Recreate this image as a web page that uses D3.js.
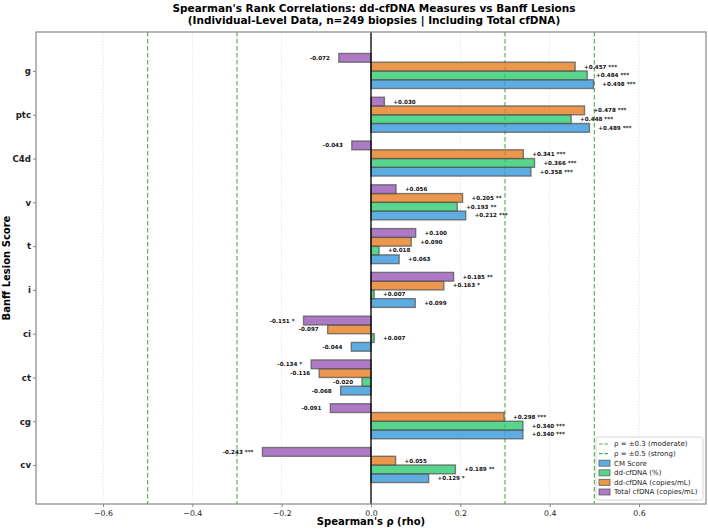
<!DOCTYPE html>
<html>
<head>
<meta charset="utf-8">
<script src="https://cdn.jsdelivr.net/npm/d3@7"></script>
<style>
  html, body { margin: 0; padding: 0; background: #fff; }
  svg { display: block; font-family: "DejaVu Sans", sans-serif; }
</style>
</head>
<body>
<svg id="chart" width="708" height="529"></svg>
<script>
// ---- Data ----
const lesions = ["g", "ptc", "C4d", "v", "t", "i", "ci", "ct", "cg", "cv"];
const seriesNames = ["CM Score", "dd-cfDNA (%)", "dd-cfDNA (copies/mL)", "Total cfDNA (copies/mL)"];
const cmScore     = [0.498, 0.489, 0.358, 0.212, 0.063, 0.099, -0.044, -0.068, 0.340, 0.129];
const cmSig       = ["***", "***", "***", "***", "", "", "", "", "***", "*"];
const ddPct       = [0.484, 0.448, 0.366, 0.193, 0.018, 0.007, 0.007, -0.020, 0.340, 0.189];
const ddPctSig    = ["***", "***", "***", "**", "", "", "", "", "***", "**"];
const ddCopies    = [0.457, 0.478, 0.341, 0.205, 0.090, 0.163, -0.097, -0.116, 0.298, 0.055];
const ddCopiesSig = ["***", "***", "***", "**", "", "*", "", "", "***", ""];
const totalCf     = [-0.072, 0.030, -0.043, 0.056, 0.100, 0.185, -0.151, -0.134, -0.091, -0.243];
const totalCfSig  = ["", "", "", "", "", "**", "*", "*", "", "***"];
const xTicks = [-0.6, -0.4, -0.2, 0.0, 0.2, 0.4, 0.6];
const thresholds = [0.3, 0.5];

const seriesValues = [cmScore, ddPct, ddCopies, totalCf];
const seriesSigs = [cmSig, ddPctSig, ddCopiesSig, totalCfSig];
const colors = ["#3498db", "#2ecc71", "#e67e22", "#9b59b6"];
const offsets = [0.3, 0.1, -0.1, -0.3];
const barH = 0.2;

// ---- Layout ----
const svg = d3.select("#chart");
const L = 36, R = 706, T = 32, B = 504;

const x = d3.scaleLinear().domain([-0.75, 0.75]).range([L, R]);
const y = d3.scaleLinear().domain([-0.89, lesions.length - 1 + 0.89]).range([T, B]);

// grid
svg.append("g").selectAll("line").data(xTicks).join("line")
  .attr("x1", d => x(d)).attr("x2", d => x(d))
  .attr("y1", T).attr("y2", B)
  .attr("stroke", "#cccccc").attr("stroke-width", 0.6)
  .attr("stroke-dasharray", "1.5,1.5").attr("opacity", 0.8);

// threshold lines
const thrVals = [];
thresholds.forEach(t => { thrVals.push(t); thrVals.push(-t); });
svg.append("g").selectAll("line").data(thrVals).join("line")
  .attr("x1", d => x(d)).attr("x2", d => x(d))
  .attr("y1", T).attr("y2", B)
  .attr("stroke", "#2ca02c").attr("stroke-width", 1.1)
  .attr("stroke-dasharray", "4.5,2.5").attr("opacity", 0.85);

// bars
const barsData = [];
lesions.forEach((les, i) => {
  seriesValues.forEach((vals, s) => {
    barsData.push({ i, s, v: vals[i], sig: seriesSigs[s][i] });
  });
});

svg.append("g").selectAll("rect").data(barsData).join("rect")
  .attr("x", d => Math.min(x(0), x(d.v)))
  .attr("width", d => Math.abs(x(d.v) - x(0)))
  .attr("y", d => y(d.i + offsets[d.s] - barH / 2))
  .attr("height", d => y(barH) - y(0))
  .attr("fill", d => colors[d.s])
  .attr("fill-opacity", 0.8)
  .attr("stroke", "#555")
  .attr("stroke-opacity", 0.75)
  .attr("stroke-width", 1.4);

// zero line
svg.append("line")
  .attr("x1", x(0)).attr("x2", x(0)).attr("y1", T).attr("y2", B)
  .attr("stroke", "#000").attr("stroke-width", 1.3);

// value labels
svg.append("g").selectAll("text").data(barsData).join("text")
  .attr("x", d => d.v >= 0 ? x(d.v + 0.02) : x(d.v - 0.02))
  .attr("y", d => y(d.i + offsets[d.s]))
  .attr("dy", "0.35em")
  .attr("text-anchor", d => d.v >= 0 ? "start" : "end")
  .attr("font-size", 5.6)
  .attr("font-weight", "bold")
  .attr("fill", "#111")
  .text(d => (d.v >= 0 ? "+" : "-") + Math.abs(d.v).toFixed(3) + (d.sig ? " " + d.sig : ""));

// frame
svg.append("rect").attr("x", L).attr("y", T).attr("width", R - L).attr("height", B - T)
  .attr("fill", "none").attr("stroke", "#888").attr("stroke-width", 1.2);

// x axis
const xAxis = d3.axisBottom(x).tickValues(xTicks).tickSize(3).tickPadding(3)
  .tickFormat(d => d3.format(".1f")(d).replace("-", "\u2212"));
const gx = svg.append("g").attr("transform", `translate(0,${B})`).call(xAxis);
gx.select(".domain").remove();
gx.selectAll("line").attr("stroke", "#888");
gx.selectAll("text").attr("font-size", 7.8).attr("fill", "#222").attr("font-family", "DejaVu Sans");

// y axis
const yAxis = d3.axisLeft(y).tickValues(d3.range(lesions.length)).tickSize(3).tickPadding(2)
  .tickFormat(i => lesions[i]);
const gy = svg.append("g").attr("transform", `translate(${L},0)`).call(yAxis);
gy.select(".domain").remove();
gy.selectAll("line").attr("stroke", "#888");
gy.selectAll("text").attr("font-size", 8.6).attr("font-weight", "bold").attr("fill", "#222").attr("font-family", "DejaVu Sans");

// axis labels
svg.append("text").attr("x", (L + R) / 2).attr("y", 525)
  .attr("text-anchor", "middle").attr("font-size", 10).attr("font-weight", "bold")
  .text("Spearman's \u03c1 (rho)");
svg.append("text").attr("transform", `translate(10,${(T + B) / 2}) rotate(-90)`)
  .attr("text-anchor", "middle").attr("font-size", 10).attr("font-weight", "bold")
  .text("Banff Lesion Score");

// title
const title = svg.append("text").attr("text-anchor", "middle").attr("font-size", 10.5).attr("font-weight", "bold");
title.append("tspan").attr("x", (L + R) / 2 + 3).attr("y", 12)
  .text("Spearman's Rank Correlations: dd-cfDNA Measures vs Banff Lesions");
title.append("tspan").attr("x", (L + R) / 2 + 3).attr("y", 24)
  .text("(Individual-Level Data, n=249 biopsies | Including Total cfDNA)");

// legend
const lg = svg.append("g").attr("transform", "translate(596,437)");
lg.append("rect").attr("width", 107).attr("height", 63).attr("rx", 2.5)
  .attr("fill", "#fff").attr("fill-opacity", 0.85).attr("stroke", "#ccc").attr("stroke-width", 0.8);
const legendItems = [
  { type: "line", label: "\u03c1 = \u00b10.3 (moderate)" },
  { type: "line", label: "\u03c1 = \u00b10.5 (strong)" },
  ...seriesNames.map((n, s) => ({ type: "patch", label: n, color: colors[s] }))
];
legendItems.forEach((it, k) => {
  const yy = 7 + k * 9.6;
  if (it.type === "line") {
    lg.append("line").attr("x1", 3).attr("x2", 14).attr("y1", yy).attr("y2", yy)
      .attr("stroke", "#2ca02c").attr("stroke-width", 1.1).attr("stroke-dasharray", "3.5,2").attr("opacity", 0.85);
  } else {
    lg.append("rect").attr("x", 3).attr("y", yy - 3).attr("width", 11).attr("height", 6)
      .attr("fill", it.color).attr("fill-opacity", 0.8).attr("stroke", "#555").attr("stroke-opacity", 0.75).attr("stroke-width", 1);
  }
  lg.append("text").attr("x", 18).attr("y", yy).attr("dy", "0.35em")
    .attr("font-size", 7).attr("fill", "#222").text(it.label);
});
</script>
</body>
</html>
